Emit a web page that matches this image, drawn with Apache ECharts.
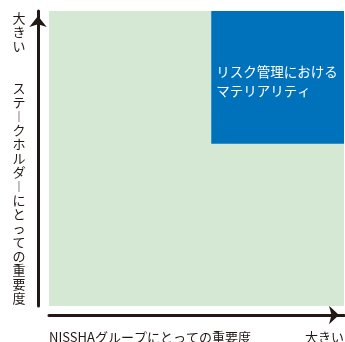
<!DOCTYPE html>
<html><head><meta charset="utf-8">
<script src="https://cdn.jsdelivr.net/npm/echarts@6/dist/echarts.min.js"></script>
<style>html,body{margin:0;padding:0;background:#fff}#c{width:345px;height:342px}</style>
</head><body><div id="c"></div>
<script>
const axisRange = [0, 100];
const fieldX = [0, 100];
const fieldY = [0, 100];
const materialX = [55, 100];
const materialY = [55, 100];
const xTickLabels = ['NISSHAグループにとっての重要度', '大きい'];
const yEndLabel = '大きい';
const yName = 'ステークホルダーにとっての重要度';
const boxLines = ['リスク管理における', 'マテリアリティ'];

const FONT = '"Noto Sans CJK JP", "Noto Sans", sans-serif';
const NL = String.fromCharCode(10);
const vert = s => Array.from(s).map(c => c === 'ー' ? '︱' : c).join(NL);
const yNameText = vert(yEndLabel) + NL + NL + NL + vert(yName);

const chart = echarts.init(document.getElementById('c'), null, {renderer: 'canvas'});
chart.setOption({
  animation: false,
  grid: {left: 49, right: 1, top: 11, bottom: 36, containLabel: false, outerBoundsMode: 'none'},
  xAxis: {
    type: 'value', min: axisRange[0], max: axisRange[1], interval: 100, offset: 9,
    axisLine: {show: true, onZero: false, symbol: ['none', 'arrow'], symbolSize: [14, 10], symbolOffset: [0, -5],
      lineStyle: {color: '#231815', width: 3}},
    axisTick: {show: false}, splitLine: {show: false},
    axisLabel: {
      show: true, margin: 16, color: '#231815', fontSize: 13, fontFamily: FONT,
      showMinLabel: true, showMaxLabel: true, hideOverlap: false,
      alignMinLabel: 'left', alignMaxLabel: 'right',
      formatter: v => v === axisRange[0] ? xTickLabels[0] : (v === axisRange[1] ? xTickLabels[1] : '')
    }
  },
  yAxis: {
    type: 'value', min: axisRange[0], max: axisRange[1], interval: 100, offset: 11,
    name: yNameText, nameLocation: 'middle', nameGap: 19, nameRotate: 0, nameMoveOverlap: false,
    nameTextStyle: {color: '#231815', fontSize: 13, fontFamily: FONT, lineHeight: 14,
      align: 'center', verticalAlign: 'middle', padding: [2, 0, 0, 0]},
    axisLine: {show: true, onZero: false, symbol: ['none', 'arrow'], symbolSize: [13, 11], symbolOffset: [0, -5],
      lineStyle: {color: '#231815', width: 3}},
    axisTick: {show: false}, splitLine: {show: false},
    axisLabel: {show: false}
  },
  series: [{
    type: 'scatter', data: [[axisRange[0], axisRange[0]]], symbolSize: 0, silent: true,
    markArea: {
      silent: true,
      data: [
        [{coord: [fieldX[0], fieldY[0]], itemStyle: {color: '#d5e8d4'}}, {coord: [fieldX[1], fieldY[1]]}],
        [{coord: [materialX[0], materialY[0]], itemStyle: {color: '#0072bc'},
          label: {show: true, position: [5, 51], color: '#fff', fontSize: 13.5, fontFamily: FONT,
            lineHeight: 19, align: 'left', verticalAlign: 'top',
            formatter: boxLines.join(NL)}},
         {coord: [materialX[1], materialY[1]]}]
      ]
    }
  }]
});
</script></body></html>
